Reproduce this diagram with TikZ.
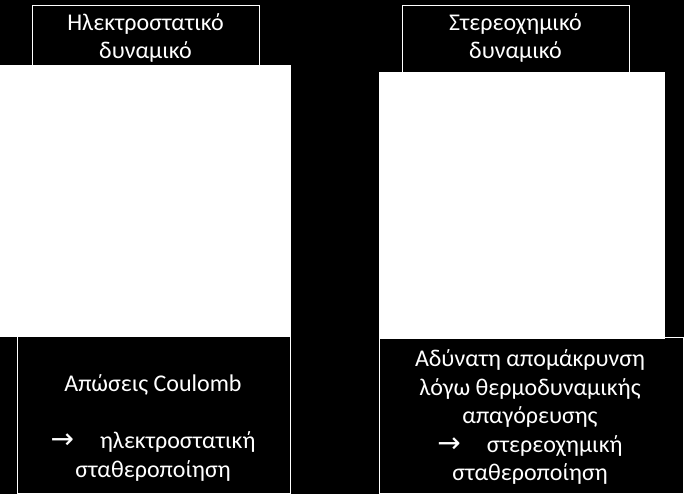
\documentclass[tikz,border=0pt]{standalone}
\usepackage{fontspec}
\setmainfont{Carlito}
\newfontfamily\arrowfont{DejaVu Sans}
\usetikzlibrary{positioning}

\begin{document}
\begin{tikzpicture}[x=1pt, y=-1pt,
  frame/.style={draw=white, line width=1pt, fill=black, inner sep=0pt},
  sheet/.style={fill=white, inner sep=0pt},
  caption/.style={text=white, align=center, inner sep=0pt,
    font=\fontsize{24}{28.5}\selectfont}]
\fill[black] (0,0) rectangle (684,494);
% title boxes
\node[frame, anchor=north west, minimum width=227, minimum height=70] (elecHead) at (32,4.7) {};
\node[frame, anchor=north west, minimum width=227, minimum height=72] (stereoHead) at (402,4.7) {};
% result boxes
\node[frame, anchor=north west, minimum width=273, minimum height=158] (elecBox) at (17,335) {};
\node[frame, anchor=north west, minimum width=304, minimum height=156] (stereoBox) at (379,337) {};
% white sheets
\node[sheet, anchor=north west, minimum width=291, minimum height=272] (elecSheet) at (0,65) {};
\node[sheet, anchor=north west, minimum width=286, minimum height=267] (stereoSheet) at (379,72) {};
% texts
\node[caption] (elecTitle) at (145.5,38) {Ηλεκτροστατικό\\δυναμικό};
\node[caption] (stereoTitle) at (515.5,38) {Στερεοχημικό\\δυναμικό};
\node[caption] (elecText) at (153,428) {Απώσεις Coulomb\\[28.5pt]%
  {\arrowfont\fontsize{28}{28.5}\selectfont →}\hspace{26pt}ηλεκτροστατική\\σταθεροποίηση};
\node[caption] (stereoText) at (530,417) {Αδύνατη απομάκρυνση\\λόγω θερμοδυναμικής\\απαγόρευσης\\%
  {\arrowfont\fontsize{28}{28.5}\selectfont →}\hspace{26pt}στερεοχημική\\σταθεροποίηση};
\end{tikzpicture}
\end{document}
